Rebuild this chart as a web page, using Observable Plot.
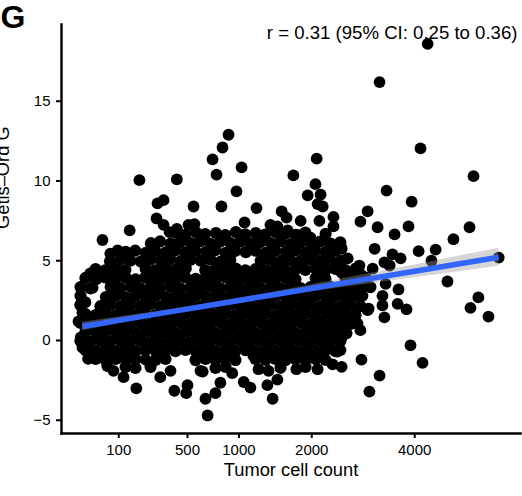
<!DOCTYPE html>
<html><head><meta charset="utf-8">
<script src="https://cdn.jsdelivr.net/npm/d3@7"></script>
<script src="https://cdn.jsdelivr.net/npm/@observablehq/plot@0.6"></script>
<style>body{margin:0;background:#fff} svg{display:block}</style>
</head><body><div id="chart"></div>
<script>
// ---- axis ticks & labels ----
const xTicks = [100, 500, 1000, 2000, 4000];
const yTicks = [-5, 0, 5, 10, 15];
const panelLabel = "G";
const xLabel = "Tumor cell count";
const yLabel = "Getis\u2013Ord G";
const annotation = "r = 0.31 (95% CI: 0.25 to 0.36)";

// ---- linear fit (G ~ sqrt(count)) and its 95% band ----
const fitCount = [12, 100, 400, 729, 1500, 2500, 4000, 6140];
const fitG = [0.88, 1.26, 1.84, 2.24, 2.92, 3.58, 4.34, 5.22];
const fitHalfWidth = [0.27, 0.21, 0.13, 0.10, 0.16, 0.27, 0.40, 0.56];

// ---- points: [tumor cell count, Getis-Ord G] ----
const sparseHigh = [
  [4300,18.6],[3240,16.2],[4133,12.04],[5450,10.3],[3385,9.4],[3930,8.7],[3000,8.1],[2860,7.45],
  [3200,7.1],[3860,7.15],[3555,6.65],[5345,7.1],[4930,6.35],[4090,5.6],[4490,5.7],[3140,5.75],
  [3510,5.4],[3685,5.15],[4390,5.0],[6140,5.2],[3340,4.9],[3450,4.7],[3100,4.5],[2840,4.7],
  [2620,5.15],[2510,5.75],[4780,3.7],[5580,2.7],[5370,2.05],[5855,1.5],[3640,3.2],[3620,2.3],
  [3815,1.95],[3365,3.55],[3300,2.8],[3300,2.2],[3340,1.45],[3000,1.9],[2860,0.65]
];
const sparseLowRight = [
  [3905,-0.3],[4180,-1.4],[2880,-1.2],[2510,-1.65],[3240,-2.2],[3035,-3.2],[2350,-1.5],[2095,-1.8],
  [1760,-1.8],[1420,-3.65],[1350,-2.8],[1485,-2.45],[1135,-2.95],[1055,-2.6],[925,-2.05],[1235,-1.8],
  [1365,-1.9],[630,-1.95],[675,-4.7],[655,-3.65],[750,-3.3],[800,-2.65],[400,-3.15],[500,-2.8],
  [490,-3.3],[173,-3.0],[118,-2.3],[82,-1.9],[63,-1.6],[20,-1.15],[12,-0.45],[10,0.2],[220,-1.2],
  [305,-2.3],[373,-1.9],[610,-1.9],[1170,-0.95],[1420,-0.8],[1675,-1.0],[1935,-1.05],[2435,-0.7],
  [2260,-0.1],[2510,0.2],[2145,0.65],[2505,0.8]
];
const sparseUpperLeft = [
  [50,6.3],[143,6.9],[188,10.05],[418,10.1],[288,8.6],[326,8.8],[550,8.4],[282,7.65],[326,7.25],
  [366,6.8],[418,7.0],[508,7.25],[558,7.3],[722,11.35],[761,10.4],[822,12.1],[885,12.9],[811,8.4],
  [972,9.35],[1030,10.85],[1065,7.4],[1210,8.3],[2080,11.4],[1715,10.35],[2060,9.8],[1935,9.1],
  [2145,9.15],[2095,8.55],[2180,8.4],[2365,7.75],[2125,7.5],[2365,7.15],[1825,7.5],[1545,8.1],
  [1615,7.7],[1390,7.25],[1485,7.15],[1630,6.9],[1795,6.6],[1980,6.45],[2015,5.95],[2500,5.85],
  [20,4.0],[58,4.1],[72,5.45],[96,5.65],[28,3.3],[16,2.4],[12,1.75],[7.6,1.2]
];
const rightEdge = [
  [2510,4.25],[2690,4.15],[2960,3.95],[2900,2.8],[3020,2.0],[2805,1.05],[2600,0.45],[2490,-0.6]
];
const coreTop = [
  [410,6.76],[482,6.63],[570,6.79],[652,6.67],[755,6.74],[850,6.61],[965,6.8],[1072,6.66],[1200,6.73],[1320,6.64],[1462,6.79],[1596,6.7],[1750,6.62],[1898,6.77],[2230,6.69],
  [249,6.1],[304,6.21],[375,6.07],[443,6.17],[527,6.11],[608,6.22],[705,6.06],[798,6.19],[909,6.1],[1015,6.2],[1139,6.08],[1257,6.16],[1394,6.11],[1526,6.21],[1676,6.05],[1820,6.17],[1984,6.09],[2140,6.2],[2316,6.07],[2486,6.15],
  [127,5.55],[168,5.63],[221,5.5],[274,5.61],[341,5.53],[406,5.65],[486,5.52],[565,5.61],[658,5.55],[748,5.66],[856,5.5],[958,5.61],[1079,5.54],[1194,5.63],[1328,5.5],[1456,5.61],[1603,5.55],[1744,5.65],[1904,5.52],[2058,5.6],[2230,5.54],[2397,5.63],
  [71,4.97],[107,5.09],[146,5.0],[195,4.95],[245,5.07],[308,5.0],[371,5.09],[447,4.97],[523,5.05],[612,5.0],[700,5.09],[803,4.95],[904,5.04],[1263,5.0],[1388,5.07],[1532,4.97],[1670,5.05],[1826,5.0],[1977,5.09],[2146,4.96],[2310,5.05],[2492,5.0],
  [34,4.48],[57,4.4],[90,4.52],[125,4.42],[220,4.5],[275,4.4],[340,4.49],[407,4.43],[486,4.52],[654,4.41],[753,4.5],[851,4.43],[963,4.51],[1074,4.4],[1199,4.48],[1323,4.42],[1461,4.52],[1598,4.4],[1749,4.47],[1899,4.43],[2063,4.51],[2225,4.41],[2402,4.49],[2578,4.42],[2768,4.5],
  [24,4.19],[45,4.14],[72,4.2],[106,4.13],[247,4.18],[306,4.15],[373,4.21],[445,4.13],[702,4.19],[801,4.14],[906,4.2],[1018,4.15],[1136,4.18],[1260,4.13],[1391,4.2],[1529,4.15],[1673,4.19],[2143,4.14],[2672,4.2],[2861,4.15]
];
const coreMiddle = [
  [16,3.92],[35,3.84],[57,3.95],[88,3.85],[127,3.93],[170,3.84],[218,3.94],[277,3.86],[338,3.92],[409,3.83],[483,3.95],[568,3.87],[655,3.93],[752,3.84],[852,3.95],[962,3.86],[1075,3.92],[1198,3.83],[1324,3.94],[1460,3.87],[1601,3.93],[1746,3.84],[2062,3.92],[2226,3.86],[2581,3.93],[2765,3.85],[2957,3.92],
  [9.7,3.35],[24,3.27],[73,3.36],[105,3.28],[148,3.37],[192,3.27],[248,3.35],[305,3.29],[374,3.37],[444,3.27],[526,3.34],[609,3.3],[703,3.37],[800,3.27],[907,3.35],[1017,3.28],[1137,3.36],[1259,3.29],[1392,3.34],[1528,3.27],[1674,3.36],[1822,3.29],[1981,3.35],[2142,3.28],[2314,3.36],[2488,3.29],[2673,3.34],[2860,3.28],[3055,3.35],
  [9.7,2.8],[59,2.72],[88,2.8],[127,2.71],[168,2.79],[220,2.73],[275,2.8],[340,2.72],[407,2.78],[485,2.71],[566,2.8],[657,2.73],[750,2.79],[854,2.71],[960,2.8],[1077,2.72],[1196,2.78],[1326,2.71],[1458,2.8],[1601,2.73],[1748,2.79],[1900,2.71],[2060,2.8],[2228,2.72],[2399,2.79],[2579,2.73],[2767,2.8],
  [9.5,2.22],[45,2.15],[72,2.23],[107,2.14],[146,2.22],[194,2.16],[246,2.24],[307,2.14],[372,2.22],[446,2.15],[524,2.23],[611,2.14],[701,2.22],[802,2.16],[905,2.23],[1019,2.14],[1135,2.22],[1261,2.15],[1390,2.23],[1530,2.14],[1672,2.22],[1824,2.16],[1979,2.23],[2144,2.14],[2312,2.22],[2490,2.15],[2671,2.23],[2862,2.15],
  [16,1.66],[34,1.59],[58,1.67],[89,1.58],[126,1.66],[169,1.6],[219,1.67],[276,1.58],[339,1.66],[408,1.59],[484,1.67],[567,1.59],[656,1.66],[751,1.6],[853,1.67],[961,1.58],[1076,1.66],[1197,1.6],[1325,1.67],[1459,1.58],[1600,1.66],[1747,1.59],[1901,1.67],[2061,1.59],[2227,1.66],[2400,1.6],[2580,1.67],[2766,1.59]
];
const coreBottom = [
  [9.8,1.1],[24,1.03],[45,1.1],[72,1.02],[106,1.1],[147,1.04],[193,1.11],[247,1.02],[306,1.1],[373,1.03],[445,1.11],[525,1.02],[610,1.1],[702,1.04],[801,1.11],[906,1.02],[1018,1.1],[1136,1.03],[1260,1.11],[1391,1.02],[1529,1.1],[1673,1.04],[1823,1.11],[1980,1.02],[2143,1.1],[2313,1.03],[2489,1.1],[2672,1.04],
  [16,0.53],[35,0.46],[57,0.54],[90,0.46],[125,0.53],[170,0.47],[218,0.54],[277,0.46],[338,0.53],[409,0.47],[483,0.54],[568,0.46],[655,0.53],[752,0.47],[852,0.54],[962,0.46],[1075,0.53],[1198,0.47],[1324,0.54],[1460,0.46],[1601,0.53],[1746,0.47],[1902,0.54],[2060,0.46],[2228,0.53],[2401,0.47],[2579,0.54],
  [9.6,-0.03],[24,-0.1],[46,-0.02],[71,-0.1],[107,-0.03],[146,-0.09],[194,-0.02],[248,-0.1],[305,-0.03],[374,-0.09],[444,-0.02],[526,-0.1],[611,-0.03],[701,-0.09],[802,-0.02],[905,-0.1],[1019,-0.03],[1135,-0.09],[1261,-0.02],[1390,-0.1],[1530,-0.03],[1672,-0.09],[1824,-0.02],[1979,-0.1],[2144,-0.03],[2312,-0.09],[2488,-0.02],
  [16,-0.6],[34,-0.67],[58,-0.59],[89,-0.66],[126,-0.6],[169,-0.67],[219,-0.59],[276,-0.66],[339,-0.6],[408,-0.67],[484,-0.59],[567,-0.66],[656,-0.6],[751,-0.67],[853,-0.59],[961,-0.66],[1076,-0.6],[1197,-0.67],[1325,-0.59],[1459,-0.66],[1600,-0.6],[1747,-0.67],[1901,-0.59],[2061,-0.66],[2227,-0.6],[2400,-0.67],
  [45,-0.9],[72,-0.94],[106,-0.88],[147,-0.93],[306,-0.9],[610,-0.92],[702,-0.88],[801,-0.94],[906,-0.9],[1260,-0.93],[1391,-0.89],[1529,-0.94],[1673,-0.9],[1823,-0.92],[1980,-0.88],[2143,-0.93],
  [34,-1.16],[58,-1.22],[89,-1.15],[126,-1.23],[169,-1.17],[276,-1.22],[339,-1.16],[567,-1.23],[656,-1.16],[751,-1.22],[853,-1.15],[961,-1.23],[1197,-1.16],[1325,-1.22],[1459,-1.15],[1600,-1.23],[1747,-1.17],[1901,-1.22],[2061,-1.16],[2227,-1.22],
  [126,-1.66],[169,-1.72],[247,-1.65],[751,-1.72],[853,-1.66],[1529,-1.71],[1901,-1.66]
];

// ---- build tables for the library ----
const toRows = arr => arr.map(([count, g]) => ({count, g}));
const sparsePoints = toRows([...sparseHigh, ...sparseLowRight, ...sparseUpperLeft, ...rightEdge]);
const corePoints = toRows([...coreTop, ...coreMiddle, ...coreBottom]);
const fit = fitCount.map((c, i) => ({count: c, g: fitG[i], lo: fitG[i] - fitHalfWidth[i], hi: fitG[i] + fitHalfWidth[i]}));

const chart = Plot.plot({
  width: 522,
  height: 496,
  marginTop: 24,
  marginBottom: 63,
  marginLeft: 61,
  marginRight: 2,
  style: {fontFamily: "'Liberation Sans', Arial, Helvetica, sans-serif", background: "white", color: "black"},
  x: {type: "sqrt", domain: [0, 6770], range: [62.7, 520]},
  y: {domain: [-5.83, 19.81]},
  marks: [
    Plot.axisX({ticks: xTicks, tickFormat: d => String(d), tickSize: 5, tickPadding: 6, fontSize: 15, label: null, strokeWidth: 2}),
    Plot.axisY({ticks: yTicks, tickSize: 5, tickPadding: 6, fontSize: 15, label: null, strokeWidth: 2}),
    Plot.frame({anchor: "left", strokeWidth: 2.4}),
    Plot.frame({anchor: "bottom", strokeWidth: 2.4}),
    Plot.text([annotation], {text: d => d, frameAnchor: "top-right", textAnchor: "end", lineAnchor: "bottom", dx: -3, dy: 14, fontSize: 18.6}),
    Plot.text([panelLabel], {text: d => d, frameAnchor: "top-left", textAnchor: "start", lineAnchor: "bottom", dx: -61, dy: 3, fontSize: 32, fontWeight: "bold"}),
    Plot.text([xLabel], {text: d => d, frameAnchor: "bottom", lineAnchor: "bottom", dy: 42, fontSize: 18.3}),
    Plot.text([yLabel], {text: d => d, frameAnchor: "left", rotate: -90, lineAnchor: "bottom", dx: -53, fontSize: 18.3}),
    Plot.dot(corePoints, {x: "count", y: "g", r: 6.1, fill: "black", stroke: null}),
    Plot.dot(sparsePoints, {x: "count", y: "g", r: 5.9, fill: "black", stroke: null}),
    Plot.areaY(fit, {x: "count", y1: "lo", y2: "hi", fill: "#999999", fillOpacity: 0.4}),
    Plot.line(fit, {x: "count", y: "g", stroke: "#3366FF", strokeWidth: 5.5, strokeLinecap: "butt"})
  ]
});
document.getElementById("chart").append(chart);
</script>
</body></html>
